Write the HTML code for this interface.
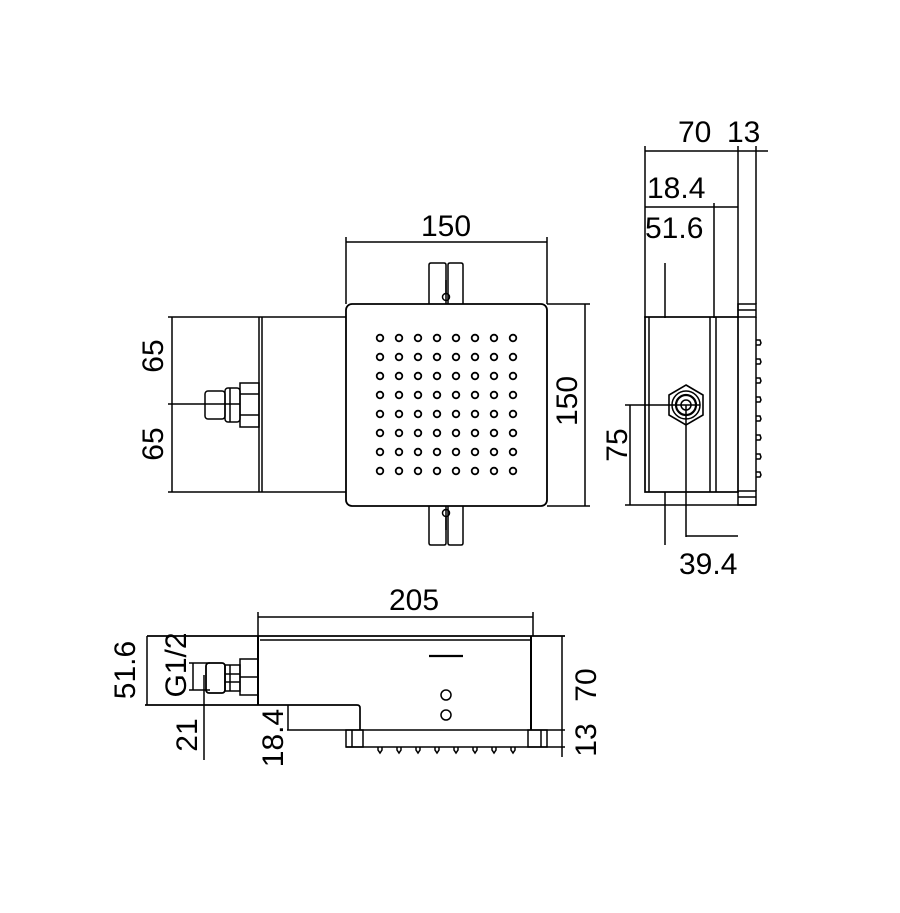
<!DOCTYPE html>
<html><head><meta charset="utf-8"><style>html,body{margin:0;padding:0;background:#fff}svg{display:block}</style></head>
<body>
<svg width="900" height="913" viewBox="0 0 900 913" xmlns="http://www.w3.org/2000/svg" font-family="Liberation Sans, sans-serif" font-size="30" fill="none" stroke="#000" stroke-width="1.5">
<defs>
<pattern id="h" x="370.5" y="328.5" width="19" height="19" patternUnits="userSpaceOnUse">
<circle cx="9.5" cy="9.5" r="3.3" stroke="#000" stroke-width="1.8" fill="none"/>
</pattern>
</defs>
<!-- FRONT VIEW -->
<line x1="346" y1="242" x2="547" y2="242"/>
<line x1="346" y1="237" x2="346" y2="304"/>
<line x1="547" y1="237" x2="547" y2="304"/>
<text x="446" y="236" fill="#000" stroke="none" text-anchor="middle">150</text>
<path d="M429 304V265q0-2 2-2h13q2 0 2 2v39M448 304V265q0-2 2-2h11q2 0 2 2v39"/>
<line x1="446" y1="280" x2="446" y2="293"/><circle cx="446" cy="297" r="3.5"/>
<path d="M429 506V543q0 2 2 2h13q2 0 2-2V506M448 506V543q0 2 2 2h11q2 0 2-2V506"/>
<line x1="446" y1="530" x2="446" y2="517"/><circle cx="446" cy="513" r="3.5"/>
<rect x="346" y="304" width="201" height="202" rx="6" stroke-width="1.8"/>
<rect x="370.5" y="328.5" width="152" height="152" fill="url(#h)" stroke="none"/>
<line x1="547" y1="304" x2="590" y2="304"/><line x1="547" y1="506" x2="590" y2="506"/>
<line x1="585" y1="304" x2="585" y2="506"/>
<text transform="translate(577 401) rotate(-90)" fill="#000" stroke="none" text-anchor="middle">150</text>
<line x1="168" y1="317" x2="346" y2="317"/><line x1="168" y1="492" x2="346" y2="492"/>
<line x1="259" y1="317" x2="259" y2="492"/><line x1="262" y1="317" x2="262" y2="492"/>
<line x1="172" y1="317" x2="172" y2="492"/>
<line x1="168" y1="404" x2="240" y2="404"/>
<text transform="translate(163 356) rotate(-90)" fill="#000" stroke="none" text-anchor="middle">65</text>
<text transform="translate(163 444) rotate(-90)" fill="#000" stroke="none" text-anchor="middle">65</text>
<rect x="240" y="383" width="19" height="44"/>
<line x1="240" y1="394" x2="259" y2="394"/><line x1="240" y1="415" x2="259" y2="415"/>
<rect x="225" y="388" width="15" height="34" rx="3"/>
<line x1="230" y1="388" x2="230" y2="422"/>
<rect x="205" y="391" width="20" height="28" rx="3"/>
<!-- SIDE VIEW -->
<text x="678" y="142" fill="#000" stroke="none">70</text>
<text x="727" y="142" fill="#000" stroke="none">13</text>
<line x1="645" y1="151" x2="768" y2="151"/>
<line x1="645" y1="146" x2="645" y2="318"/>
<line x1="738" y1="146" x2="738" y2="318"/>
<line x1="756" y1="146" x2="756" y2="304"/>
<text x="647" y="198" fill="#000" stroke="none">18.4</text>
<line x1="645" y1="207" x2="738" y2="207"/>
<text x="645" y="238" fill="#000" stroke="none">51.6</text>
<line x1="714" y1="203" x2="714" y2="318"/>
<line x1="665" y1="263" x2="665" y2="318"/>
<rect x="645" y="317" width="93" height="175" stroke-width="1.7"/>
<line x1="649" y1="317" x2="649" y2="492"/>
<line x1="710" y1="317" x2="710" y2="492"/>
<line x1="716" y1="317" x2="716" y2="492"/>
<rect x="738" y="304" width="18" height="13"/><line x1="738" y1="310" x2="756" y2="310"/>
<rect x="738" y="491" width="18" height="14"/><line x1="738" y1="497" x2="756" y2="497"/>
<line x1="756" y1="317" x2="756" y2="491"/>
<path d="M756 340h4l1 3-1 2h-4M756 359h4l1 3-1 2h-4M756 378h4l1 3-1 2h-4M756 397h4l1 3-1 2h-4M756 416h4l1 3-1 2h-4M756 435h4l1 3-1 2h-4M756 454h4l1 3-1 2h-4M756 472h4l1 3-1 2h-4"/>
<polygon points="686,385 703,395 703,415 686,425 669,415 669,395" stroke-width="1.6"/>
<circle cx="686" cy="405" r="14"/><circle cx="686" cy="405" r="10" stroke-width="2.2"/><circle cx="686" cy="405" r="5"/>
<line x1="625" y1="405" x2="700" y2="405"/>
<line x1="630" y1="405" x2="630" y2="505"/>
<line x1="625" y1="505" x2="756" y2="505"/>
<text transform="translate(627 445) rotate(-90)" fill="#000" stroke="none" text-anchor="middle">75</text>
<line x1="665" y1="492" x2="665" y2="545"/>
<line x1="686" y1="405" x2="686" y2="537"/>
<line x1="686" y1="536" x2="738" y2="536"/>
<text x="679" y="574" fill="#000" stroke="none">39.4</text>
<!-- BOTTOM VIEW -->
<text x="389" y="610" fill="#000" stroke="none">205</text>
<line x1="258" y1="617" x2="533" y2="617"/>
<line x1="258" y1="612" x2="258" y2="636"/><line x1="533" y1="612" x2="533" y2="636"/>
<line x1="147" y1="636" x2="565" y2="636" stroke-width="1.7"/>
<line x1="260" y1="640" x2="531" y2="640"/>
<line x1="258" y1="636" x2="258" y2="705" stroke-width="2"/>
<line x1="531" y1="636" x2="531" y2="730" stroke-width="2"/>
<path d="M145 705H357q3 0 3 3V730" stroke-width="1.7"/>
<line x1="287" y1="730" x2="565" y2="730"/>
<rect x="346" y="730" width="17" height="17"/><line x1="352" y1="730" x2="352" y2="747"/>
<rect x="528" y="730" width="19" height="17"/><line x1="541" y1="730" x2="541" y2="747"/>
<line x1="346" y1="747" x2="565" y2="747"/>
<path d="M378 747v3l2 3 2-3v-3M397 747v3l2 3 2-3v-3M416 747v3l2 3 2-3v-3M435 747v3l2 3 2-3v-3M454 747v3l2 3 2-3v-3M473 747v3l2 3 2-3v-3M492 747v3l2 3 2-3v-3M511 747v3l2 3 2-3v-3"/>
<line x1="429" y1="656" x2="463" y2="656" stroke-width="2.2"/>
<circle cx="446" cy="695" r="5"/><circle cx="446" cy="715" r="5"/>
<line x1="147" y1="636" x2="147" y2="705"/>
<text transform="translate(135 670) rotate(-90)" fill="#000" stroke="none" text-anchor="middle">51.6</text>
<text transform="translate(186 665) rotate(-90)" fill="#000" stroke="none" text-anchor="middle">G1/2</text>
<line x1="193" y1="663" x2="193" y2="690"/>
<line x1="189" y1="663" x2="210" y2="663"/><line x1="189" y1="690" x2="210" y2="690"/>
<rect x="240" y="659" width="18" height="36"/>
<line x1="240" y1="677" x2="258" y2="677"/>
<rect x="225" y="665" width="15" height="26"/>
<line x1="230" y1="665" x2="230" y2="691"/><line x1="225" y1="674" x2="240" y2="674"/><line x1="225" y1="682" x2="240" y2="682"/>
<rect x="206" y="663" width="19" height="30" rx="3" stroke-width="1.8"/>
<line x1="204" y1="675" x2="204" y2="760"/>
<text transform="translate(197 735) rotate(-90)" fill="#000" stroke="none" text-anchor="middle">21</text>
<line x1="288" y1="705" x2="288" y2="730"/>
<text transform="translate(283 738) rotate(-90)" fill="#000" stroke="none" text-anchor="middle">18.4</text>
<line x1="562" y1="636" x2="562" y2="757"/>
<text transform="translate(596 685) rotate(-90)" fill="#000" stroke="none" text-anchor="middle">70</text>
<text transform="translate(596 740) rotate(-90)" fill="#000" stroke="none" text-anchor="middle">13</text>
</svg>
</body></html>
